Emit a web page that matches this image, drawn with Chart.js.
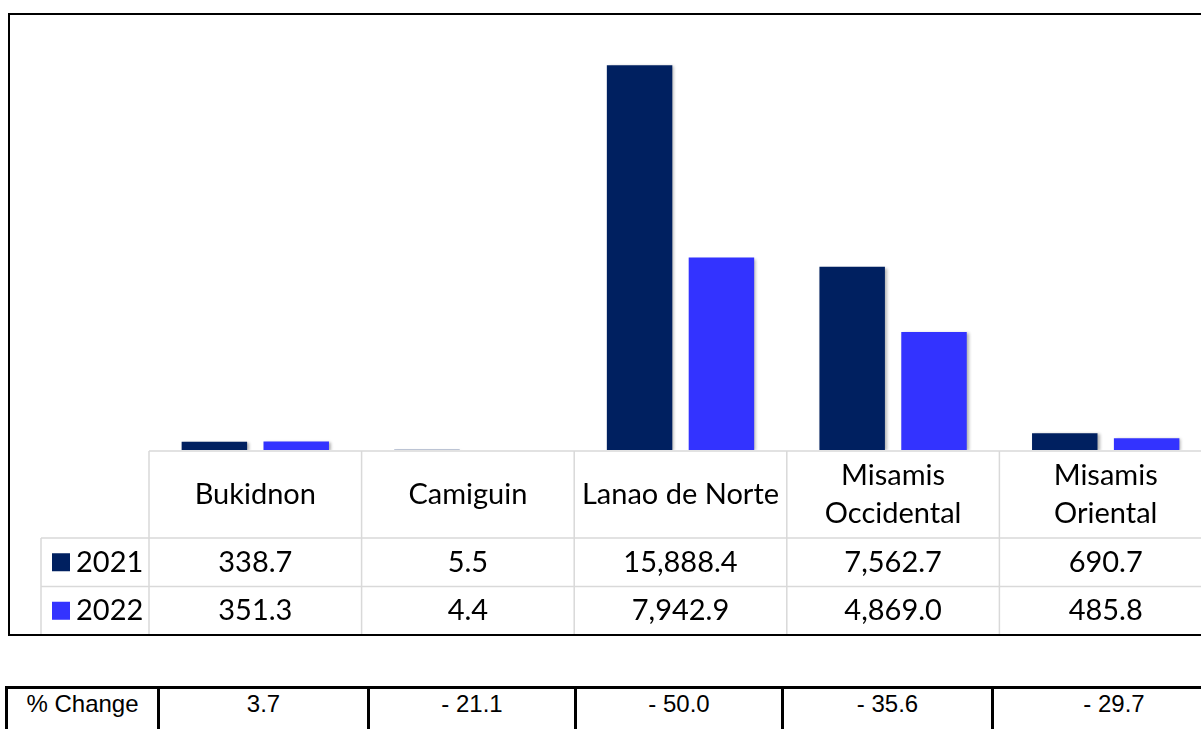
<!DOCTYPE html>
<html>
<head>
<meta charset="utf-8">
<title>Provinces 2021 vs 2022</title>
<script src="https://cdn.jsdelivr.net/npm/chart.js@4.4.1/dist/chart.umd.min.js"></script>
<style>
    html, body { margin: 0; padding: 0; background: #fff; overflow: hidden; width: 1201px; height: 729px; }
    #chartBox { position: absolute; left: 0; top: 0; width: 1230px; height: 640px; }
    #changeTable {
        position: absolute; left: 5px; top: 686px;
        border-collapse: collapse; table-layout: fixed;
        font-family: "Liberation Sans", Arial, sans-serif; font-size: 24px; color: #000;
    }
    #changeTable td {
        border: 3px solid #000; padding: 1px 0 0 0; height: 60px;
        vertical-align: top; text-align: center; line-height: 28px; white-space: nowrap;
    }
</style>
</head>
<body>
<div id="chartBox"><canvas id="provinceChart"></canvas></div>
<table id="changeTable"><tr id="changeRow"></tr></table>

<script>
var provinces = ['Bukidnon', 'Camiguin', 'Lanao de Norte', 'Misamis Occidental', 'Misamis Oriental'];
var seriesNames = ['2021', '2022'];
var values2021 = [338.7, 5.5, 15888.4, 7562.7, 690.7];
var values2022 = [351.3, 4.4, 7942.9, 4869.0, 485.8];
var pctChange = [3.7, -21.1, -50.0, -35.6, -29.7];
var changeLabel = '% Change';
var seriesColors = ['#002060', '#3333ff'];

(function () {
    var tableFont = '29px Lato, "Open Sans", sans-serif';
    var gridColor = '#d9d9d9';

    function fmtValue(v) {
        return v.toLocaleString('en-US', { minimumFractionDigits: 1, maximumFractionDigits: 1 });
    }

    function wrapLabel(ctx, text, maxWidth) {
        var words = text.split(' ');
        var lines = [];
        var line = '';
        words.forEach(function (w) {
            var test = line ? line + ' ' + w : w;
            if (line && ctx.measureText(test).width > maxWidth) {
                lines.push(line);
                line = w;
            } else {
                line = test;
            }
        });
        if (line) lines.push(line);
        return lines;
    }

    // bars get a soft drop shadow like the office chart
    var barShadow = {
        id: 'barShadow',
        beforeDatasetsDraw: function (chart) {
            var c = chart.ctx;
            c.save();
            c.shadowColor = 'rgba(0,0,0,0.3)';
            c.shadowBlur = 3;
            c.shadowOffsetX = 2;
            c.shadowOffsetY = 1;
        },
        afterDatasetsDraw: function (chart) {
            chart.ctx.restore();
        }
    };

    // data table under the plot, columns taken from the x scale
    var dataTable = {
        id: 'dataTable',
        afterDraw: function (chart) {
            var ctx = chart.ctx;
            var xs = chart.scales.x;
            var area = chart.chartArea;
            var n = provinces.length;
            var colW = (xs.right - xs.left) / n;
            var top = area.bottom + 1;
            var headH = 87;
            var rowH = 48.5;
            var legendLeft = 41;
            var bottom = top + headH + rowH * 2;
            var rows = [values2021, values2022];

            ctx.save();
            ctx.strokeStyle = gridColor;
            ctx.lineWidth = 1.5;
            ctx.beginPath();
            ctx.moveTo(xs.left, top); ctx.lineTo(chart.width, top);
            for (var r = 0; r < 2; r++) {
                var y = top + headH + r * rowH;
                ctx.moveTo(legendLeft, y); ctx.lineTo(chart.width, y);
            }
            ctx.moveTo(legendLeft, top + headH); ctx.lineTo(legendLeft, bottom);
            for (var i = 0; i <= n; i++) {
                var x = xs.left + i * colW;
                ctx.moveTo(x, top); ctx.lineTo(x, bottom);
            }
            ctx.stroke();

            ctx.font = tableFont;
            ctx.fillStyle = '#000';
            ctx.textAlign = 'center';
            ctx.textBaseline = 'middle';
            provinces.forEach(function (name, i) {
                var cx = xs.getPixelForValue(i);
                var lines = wrapLabel(ctx, name, colW - 14);
                var lh = 38;
                var y0 = top + headH / 2 - (lines.length - 1) * lh / 2;
                lines.forEach(function (ln, k) {
                    ctx.fillText(ln, cx, y0 + k * lh);
                });
                rows.forEach(function (vals, r) {
                    ctx.fillText(fmtValue(vals[i]), cx, top + headH + r * rowH + rowH / 2);
                });
            });

            ctx.textAlign = 'left';
            seriesNames.forEach(function (s, r) {
                var cy = top + headH + r * rowH + rowH / 2;
                ctx.fillStyle = seriesColors[r];
                ctx.fillRect(52, cy - 9, 18, 18);
                ctx.fillStyle = '#000';
                ctx.fillText(s, 76, cy);
            });

            // outer chart border
            ctx.strokeStyle = '#000';
            ctx.lineWidth = 2;
            ctx.strokeRect(9, area.top, chart.width + 20, bottom - area.top);
            ctx.restore();
        }
    };

    new Chart(document.getElementById('provinceChart').getContext('2d'), {
        type: 'bar',
        data: {
            labels: provinces,
            datasets: [
                { label: seriesNames[0], data: values2021, backgroundColor: seriesColors[0], borderWidth: 0 },
                { label: seriesNames[1], data: values2022, backgroundColor: seriesColors[1], borderWidth: 0 }
            ]
        },
        options: {
            responsive: true,
            maintainAspectRatio: false,
            animation: false,
            events: [],
            layout: { padding: { left: 149, top: 14, right: 18, bottom: 190 } },
            datasets: { bar: { categoryPercentage: 0.77, barPercentage: 0.8 } },
            plugins: { legend: { display: false }, tooltip: { enabled: false } },
            scales: {
                x: { display: false },
                y: { display: false, min: 0, max: 18000 }
            }
        },
        plugins: [barShadow, dataTable]
    });

    // % change table
    var table = document.getElementById('changeTable');
    var row = document.getElementById('changeRow');
    var widths = [149, 207, 204, 204, 207, 240];
    table.style.width = widths.reduce(function (a, b) { return a + b; }, 0) + 'px';
    var cells = [changeLabel].concat(pctChange.map(function (v) {
        return v < 0 ? '- ' + Math.abs(v).toFixed(1) : v.toFixed(1);
    }));
    cells.forEach(function (t, i) {
        var td = document.createElement('td');
        td.style.width = widths[i] + 'px';
        td.textContent = t;
        row.appendChild(td);
    });
})();
</script>
</body>
</html>
